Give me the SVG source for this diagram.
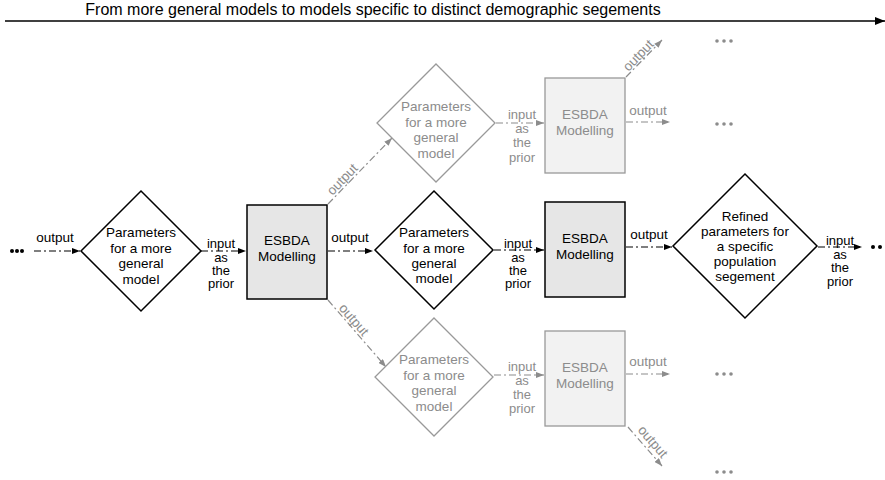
<svg xmlns="http://www.w3.org/2000/svg" width="885" height="480" viewBox="0 0 885 480">
<style>
text{font-family:"Liberation Sans",Arial,sans-serif;font-size:13.5px;text-anchor:middle}
.s{font-size:13px}
.k{fill:#000}
.g{fill:#8c8c8c}
.nk{fill:#fff;stroke:#000;stroke-width:1.5}
.ng{fill:#fff;stroke:#999;stroke-width:1.3}
.bk{fill:#e6e6e6;stroke:#000;stroke-width:1.5}
.bg{fill:#f2f2f2;stroke:#999;stroke-width:1.3}
.ck{stroke:#000;stroke-width:1.2;fill:none;stroke-dasharray:7 3 2 3;marker-end:url(#ak)}
.cg{stroke:#8c8c8c;stroke-width:1.2;fill:none;stroke-dasharray:7 3 2 3;marker-end:url(#ag)}
</style>
<defs>
<marker id="ak" markerUnits="userSpaceOnUse" markerWidth="8" markerHeight="6" refX="8" refY="3" orient="auto"><path d="M0,0 L8,3 L0,6 z" fill="#000"/></marker>
<marker id="ag" markerUnits="userSpaceOnUse" markerWidth="8" markerHeight="6" refX="8" refY="3" orient="auto"><path d="M0,0 L8,3 L0,6 z" fill="#8c8c8c"/></marker>
<marker id="at" markerUnits="userSpaceOnUse" markerWidth="10" markerHeight="8" refX="10" refY="4" orient="auto"><path d="M0,0 L10,4 L0,8 z" fill="#000"/></marker>
</defs>
<g id="title">
<text x="373" y="15" style="font-size:16px" class="k">From more general models to models specific to distinct demographic segements</text>
<line x1="5" y1="21" x2="885" y2="21" stroke="#000" stroke-width="1.5" marker-end="url(#at)"/>
</g>
<g id="connectors">
<line class="ck" x1="34" y1="251" x2="80" y2="251"/>
<text class="k" x="55" y="242">output</text>
<line class="ck" x1="201" y1="251" x2="246" y2="251"/>
<text class="k s" x="221" y="248">input</text><text class="k s" x="221" y="262">as</text><text class="k s" x="221" y="275">the</text><text class="k s" x="221" y="288">prior</text>
<line class="ck" x1="328" y1="251" x2="373" y2="251"/>
<text class="k" x="350" y="242">output</text>
<line class="ck" x1="494" y1="250" x2="544" y2="250"/>
<text class="k s" x="518" y="248">input</text><text class="k s" x="518" y="262">as</text><text class="k s" x="518" y="275">the</text><text class="k s" x="518" y="288">prior</text>
<line class="ck" x1="626" y1="247" x2="672" y2="247"/>
<text class="k" x="649" y="239">output</text>
<line class="ck" x1="818" y1="247" x2="862" y2="247"/>
<text class="k s" x="840" y="245">input</text><text class="k s" x="840" y="259">as</text><text class="k s" x="840" y="272">the</text><text class="k s" x="840" y="286">prior</text>

<line class="cg" x1="328" y1="204" x2="392" y2="138"/>
<text class="g" transform="translate(347,184) rotate(-46)" y="-2">output</text>
<line class="cg" x1="496" y1="123" x2="544" y2="123"/>
<text class="g s" x="522" y="119">input</text><text class="g s" x="522" y="133">as</text><text class="g s" x="522" y="147">the</text><text class="g s" x="522" y="162">prior</text>
<line class="cg" x1="626" y1="77" x2="662" y2="40"/>
<text class="g" transform="translate(643,60) rotate(-46)" y="-2">output</text>
<line class="cg" x1="626" y1="122" x2="670" y2="122"/>
<text class="g" x="648" y="115">output</text>

<line class="cg" x1="328" y1="300" x2="386" y2="367"/>
<text class="g" transform="translate(349,324) rotate(49)" y="-2">output</text>
<line class="cg" x1="494" y1="375" x2="544" y2="375"/>
<text class="g s" x="522" y="371">input</text><text class="g s" x="522" y="385">as</text><text class="g s" x="522" y="399">the</text><text class="g s" x="522" y="413">prior</text>
<line class="cg" x1="626" y1="374" x2="670" y2="374"/>
<text class="g" x="648" y="366">output</text>
<line class="cg" x1="628" y1="427" x2="662" y2="466"/>
<text class="g" transform="translate(648,446) rotate(49)" y="-2">output</text>
</g>
<g id="dots-left" fill="#000"><circle cx="12" cy="251" r="2"/><circle cx="17" cy="251" r="2"/><circle cx="22" cy="251" r="2"/></g>
<g id="dots-right" fill="#000"><circle cx="873" cy="247" r="2"/><circle cx="880" cy="247" r="2"/><circle cx="887" cy="247" r="2"/></g>
<g id="dots-gray" fill="#8c8c8c">
<circle cx="717" cy="41" r="1.8"/><circle cx="724" cy="41" r="1.8"/><circle cx="731" cy="41" r="1.8"/>
<circle cx="717" cy="124" r="1.8"/><circle cx="724" cy="124" r="1.8"/><circle cx="731" cy="124" r="1.8"/>
<circle cx="717" cy="374" r="1.8"/><circle cx="724" cy="374" r="1.8"/><circle cx="731" cy="374" r="1.8"/>
<circle cx="717" cy="472" r="1.8"/><circle cx="724" cy="472" r="1.8"/><circle cx="731" cy="472" r="1.8"/>
</g>
<g id="params1">
<polygon class="nk" points="141,191 201,251 141,311 81,251"/>
<text class="k" x="141" y="237">Parameters</text><text class="k" x="141" y="253">for a more</text><text class="k" x="141" y="268">general</text><text class="k" x="141" y="284">model</text>
</g>
<g id="esbda1">
<rect class="bk" x="247" y="205" width="80" height="94"/>
<text class="k" x="287" y="245">ESBDA</text><text class="k" x="287" y="261">Modelling</text>
</g>
<g id="params2">
<polygon class="nk" points="434,191 493,250 434,309 375,250"/>
<text class="k" x="434" y="237">Parameters</text><text class="k" x="434" y="253">for a more</text><text class="k" x="434" y="268">general</text><text class="k" x="434" y="283">model</text>
</g>
<g id="esbda2">
<rect class="bk" x="545" y="202" width="80" height="95"/>
<text class="k" x="585" y="243">ESBDA</text><text class="k" x="585" y="259">Modelling</text>
</g>
<g id="refined">
<polygon class="nk" points="745,174 817,246 745,318 673,246"/>
<text class="k" x="745" y="221">Refined</text><text class="k" x="745" y="236">parameters for</text><text class="k" x="745" y="251">a specific</text><text class="k" x="745" y="266">population</text><text class="k" x="745" y="281">segement</text>
</g>
<g id="params-top">
<polygon class="ng" points="436,64 495,123 436,182 377,123"/>
<text class="g" x="436" y="111">Parameters</text><text class="g" x="436" y="127">for a more</text><text class="g" x="436" y="142">general</text><text class="g" x="436" y="158">model</text>
</g>
<g id="esbda-top">
<rect class="bg" x="545" y="78" width="80" height="95"/>
<text class="g" x="585" y="119">ESBDA</text><text class="g" x="585" y="135">Modelling</text>
</g>
<g id="params-bottom">
<polygon class="ng" points="434,318 493,377 434,436 375,377"/>
<text class="g" x="434" y="364">Parameters</text><text class="g" x="434" y="380">for a more</text><text class="g" x="434" y="395">general</text><text class="g" x="434" y="411">model</text>
</g>
<g id="esbda-bottom">
<rect class="bg" x="545" y="331" width="80" height="95"/>
<text class="g" x="585" y="372">ESBDA</text><text class="g" x="585" y="388">Modelling</text>
</g>
</svg>
